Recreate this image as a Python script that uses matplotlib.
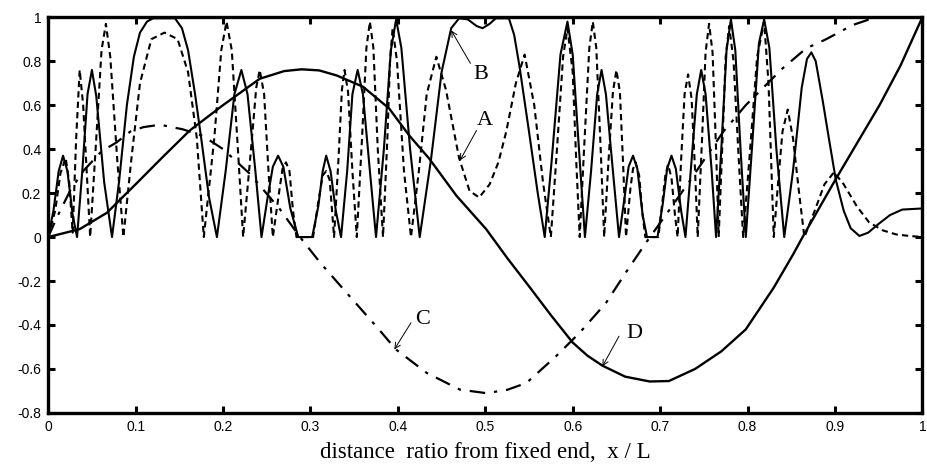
import matplotlib.pyplot as plt
from matplotlib.ticker import FuncFormatter

# curve D (solid, smooth)
d_x = [0, 0.036, 0.067, 0.1, 0.13, 0.162, 0.2, 0.242, 0.27, 0.29, 0.31, 0.33, 0.36, 0.39, 0.413,
       0.436, 0.467, 0.501, 0.525, 0.55, 0.575, 0.6, 0.617, 0.634, 0.66, 0.688, 0.71, 0.74, 0.77,
       0.798, 0.83, 0.852, 0.863, 0.901, 0.951, 0.975, 1.0]
d_y = [0, 0.036, 0.11, 0.24, 0.36, 0.485, 0.6, 0.72, 0.755, 0.763, 0.758, 0.735, 0.684, 0.585, 0.462,
       0.356, 0.188, 0.036, -0.095, -0.224, -0.355, -0.48, -0.54, -0.585, -0.635, -0.657, -0.655,
       -0.60, -0.52, -0.42, -0.23, -0.08, 0.0, 0.264, 0.6, 0.78, 1.0]

# curve C (dash-dot)
c_x = [0, 0.01, 0.025, 0.04, 0.061, 0.078, 0.094, 0.109, 0.128, 0.154, 0.177, 0.2, 0.23, 0.265,
       0.288, 0.311, 0.345, 0.375, 0.398, 0.433, 0.471, 0.501, 0.525, 0.547, 0.581, 0.608, 0.638,
       0.661, 0.684, 0.71, 0.733, 0.772, 0.798, 0.84, 0.867, 0.89, 0.92, 0.943, 0.96]
c_y = [0, 0.09, 0.21, 0.3, 0.39, 0.43, 0.48, 0.5, 0.511, 0.49, 0.46, 0.40, 0.29, 0.127,
       0.0, -0.116, -0.27, -0.405, -0.512, -0.618, -0.694, -0.71, -0.695, -0.664, -0.542, -0.435,
       -0.30, -0.16, -0.025, 0.12, 0.25, 0.478, 0.6, 0.767, 0.858, 0.90, 0.964, 0.995, 1.0]

# curve A (dashed)
a_x = [0, 0.008, 0.014, 0.02, 0.024, 0.028, 0.032, 0.036, 0.04, 0.044, 0.048, 0.055, 0.061, 0.066,
       0.071, 0.079, 0.086, 0.095, 0.105, 0.118, 0.133, 0.148, 0.16, 0.17, 0.178,
       0.19, 0.198, 0.204, 0.21, 0.217, 0.223, 0.232, 0.238, 0.242, 0.247, 0.252, 0.257,
       0.264, 0.268, 0.272, 0.276, 0.28, 0.284, 0.303, 0.309, 0.314, 0.318, 0.322, 0.327,
       0.332, 0.336, 0.339, 0.343, 0.348, 0.353, 0.359, 0.364, 0.368, 0.372, 0.377, 0.383,
       0.388, 0.391, 0.394, 0.399, 0.407, 0.415, 0.424, 0.433, 0.444, 0.455, 0.47, 0.482,
       0.493, 0.505, 0.515, 0.524, 0.535, 0.545, 0.556, 0.566, 0.575,
       0.582, 0.589, 0.594, 0.6, 0.604, 0.608, 0.613, 0.619, 0.623, 0.627, 0.632, 0.636,
       0.641, 0.646, 0.65, 0.654, 0.658, 0.661, 0.666, 0.669, 0.672, 0.676, 0.68, 0.683,
       0.698, 0.702, 0.706, 0.709, 0.713, 0.717, 0.72, 0.724, 0.728, 0.732, 0.736, 0.74, 0.743,
       0.748, 0.752, 0.756, 0.76, 0.764, 0.767, 0.771, 0.775, 0.779, 0.784, 0.79, 0.795,
       0.803, 0.811, 0.819, 0.824, 0.83, 0.835, 0.84, 0.846, 0.852, 0.859, 0.865,
       0.875, 0.888, 0.899, 0.91, 0.925, 0.939, 0.955, 0.97, 0.985, 1.0]
a_y = [0, 0.12, 0.29, 0.36, 0.25, 0.02, 0.45, 0.76, 0.6, 0.3, 0.0, 0.45, 0.85, 0.97,
       0.82, 0.35, 0.0, 0.35, 0.7, 0.9, 0.93, 0.9, 0.75, 0.45, 0.0,
       0.45, 0.85, 0.98, 0.85, 0.4, 0.0, 0.4, 0.68, 0.76, 0.65, 0.3, 0.0,
       0.2, 0.31, 0.34, 0.3, 0.12, 0.0, 0.0, 0.16, 0.28, 0.30, 0.26, 0.0,
       0.35, 0.67, 0.76, 0.66, 0.3, 0.0, 0.45, 0.86, 0.98, 0.86, 0.4, 0.0,
       0.45, 0.8, 0.95, 0.8, 0.3, 0.0, 0.3, 0.65, 0.82, 0.67, 0.36, 0.21,
       0.18, 0.24, 0.34, 0.48, 0.7, 0.83, 0.6, 0.25, 0.0,
       0.4, 0.82, 0.95, 0.75, 0.35, 0.0, 0.4, 0.86, 0.98, 0.86, 0.4, 0.0,
       0.35, 0.66, 0.76, 0.66, 0.3, 0.0, 0.22, 0.31, 0.34, 0.28, 0.1, 0.0,
       0.0, 0.14, 0.28, 0.33, 0.27, 0.1, 0.0, 0.35, 0.65, 0.74, 0.63, 0.3, 0.0,
       0.45, 0.84, 0.97, 0.84, 0.4, 0.0, 0.4, 0.82, 0.96, 0.8, 0.35, 0.0,
       0.4, 0.82, 0.98, 0.7, 0.0, 0.25, 0.48, 0.58, 0.45, 0.2, 0.0,
       0.1, 0.24, 0.295, 0.24, 0.14, 0.067, 0.03, 0.012, 0.005, 0.0]

# curve B (solid, oscillating)
b_x = [0, 0.006, 0.012, 0.017, 0.022, 0.028, 0.033, 0.039, 0.045, 0.05, 0.055, 0.064, 0.073,
       0.081, 0.09, 0.098, 0.105, 0.113, 0.12, 0.145, 0.153, 0.16, 0.168, 0.175, 0.184, 0.193,
       0.203, 0.213, 0.221, 0.228, 0.237, 0.244, 0.251, 0.257, 0.263, 0.269, 0.277, 0.286,
       0.302, 0.309, 0.314, 0.318, 0.323, 0.329, 0.335, 0.342, 0.348, 0.354, 0.36, 0.368, 0.375,
       0.384, 0.392, 0.398, 0.404, 0.414, 0.425, 0.438, 0.45, 0.461, 0.47, 0.48, 0.49, 0.497,
       0.505, 0.512, 0.527, 0.533, 0.539, 0.55, 0.56, 0.568, 0.576, 0.586, 0.594, 0.6, 0.608,
       0.614, 0.621, 0.628, 0.633, 0.638, 0.646, 0.653, 0.659, 0.664, 0.669, 0.674, 0.68, 0.685,
       0.697, 0.703, 0.708, 0.713, 0.718, 0.724, 0.729, 0.735, 0.742, 0.747, 0.752, 0.759, 0.764,
       0.77, 0.776, 0.781, 0.786, 0.792, 0.798, 0.805, 0.813, 0.819, 0.825, 0.833, 0.842,
       0.852, 0.862, 0.868, 0.873, 0.878, 0.886, 0.893, 0.901, 0.91, 0.918, 0.928, 0.938, 0.95,
       0.963, 0.977, 1.0]
b_y = [0, 0.12, 0.3, 0.37, 0.3, 0.1, 0.0, 0.3, 0.65, 0.76, 0.64, 0.25, 0.0,
       0.25, 0.6, 0.82, 0.93, 0.98, 0.995, 0.995, 0.95, 0.85, 0.65, 0.45, 0.18, 0.0,
       0.3, 0.65, 0.76, 0.65, 0.3, 0.0, 0.18, 0.32, 0.37, 0.32, 0.13, 0.0,
       0.0, 0.14, 0.3, 0.37, 0.3, 0.12, 0.0, 0.3, 0.65, 0.76, 0.65, 0.3, 0.0,
       0.4, 0.85, 0.99, 0.86, 0.4, 0.0, 0.356, 0.75, 0.95, 0.995, 0.99, 0.96, 0.95,
       0.97, 0.995, 0.995, 0.92, 0.78, 0.48, 0.2, 0.0, 0.35, 0.83, 0.98, 0.83, 0.35,
       0.0, 0.3, 0.65, 0.76, 0.65, 0.3, 0.0, 0.17, 0.32, 0.37, 0.31, 0.1, 0.0,
       0.0, 0.15, 0.31, 0.37, 0.31, 0.12, 0.0, 0.3, 0.65, 0.76, 0.65, 0.3, 0.0,
       0.4, 0.85, 0.99, 0.85, 0.4, 0.0, 0.4, 0.88, 0.99, 0.86, 0.4, 0.0,
       0.3, 0.68, 0.81, 0.84, 0.8, 0.62, 0.45, 0.26, 0.12, 0.04, 0.005, 0.02, 0.06,
       0.1, 0.125, 0.13]

x_ticks = [0, 0.1, 0.2, 0.3, 0.4, 0.5, 0.6, 0.7, 0.8, 0.9, 1]
y_ticks = [-0.8, -0.6, -0.4, -0.2, 0, 0.2, 0.4, 0.6, 0.8, 1]

fig = plt.figure(figsize=(9.27, 4.65), dpi=100)
ax = fig.add_axes([0.052, 0.112, 0.943, 0.851])

ax.plot(a_x, a_y, color='black', lw=1.5, ls=(0, (3, 2)))
ax.plot(b_x, b_y, color='black', lw=1.5)
ax.plot(c_x, c_y, color='black', lw=1.6, ls=(0, (7, 4, 1.5, 4)))
ax.plot(d_x, d_y, color='black', lw=1.7)

ax.set_xlim(0, 1)
ax.set_ylim(-0.8, 1)
ax.set_xticks(x_ticks)
ax.set_yticks(y_ticks)
fmt = FuncFormatter(lambda v, p: '%g' % round(v, 2))
ax.xaxis.set_major_formatter(fmt)
ax.yaxis.set_major_formatter(fmt)
ax.tick_params(direction='in', length=5, width=2.2, top=True, right=True,
               labelsize=10, pad=5)
for lab in ax.get_xticklabels() + ax.get_yticklabels():
    lab.set_family('Liberation Sans')
for s in ax.spines.values():
    s.set_linewidth(2.4)

serif = 'Liberation Serif'
ax.set_xlabel('distance  ratio from fixed end,  x / L', family=serif, fontsize=16.5, labelpad=6)

arrow = dict(arrowstyle='->', color='black', lw=0.7, shrinkA=0, shrinkB=0)
ax.annotate('', xy=(0.461, 0.94), xytext=(0.483, 0.79), arrowprops=arrow)
ax.text(0.486, 0.74, 'B', family=serif, fontsize=16, ha='left', va='center')
ax.annotate('', xy=(0.471, 0.348), xytext=(0.49, 0.485), arrowprops=arrow)
ax.text(0.49, 0.53, 'A', family=serif, fontsize=16, ha='left', va='center')
ax.annotate('', xy=(0.396, -0.511), xytext=(0.415, -0.39), arrowprops=arrow)
ax.text(0.42, -0.375, 'C', family=serif, fontsize=16, ha='left', va='center')
ax.annotate('', xy=(0.634, -0.588), xytext=(0.653, -0.451), arrowprops=arrow)
ax.text(0.661, -0.44, 'D', family=serif, fontsize=16, ha='left', va='center')

fig.savefig('out.png', dpi=100)
